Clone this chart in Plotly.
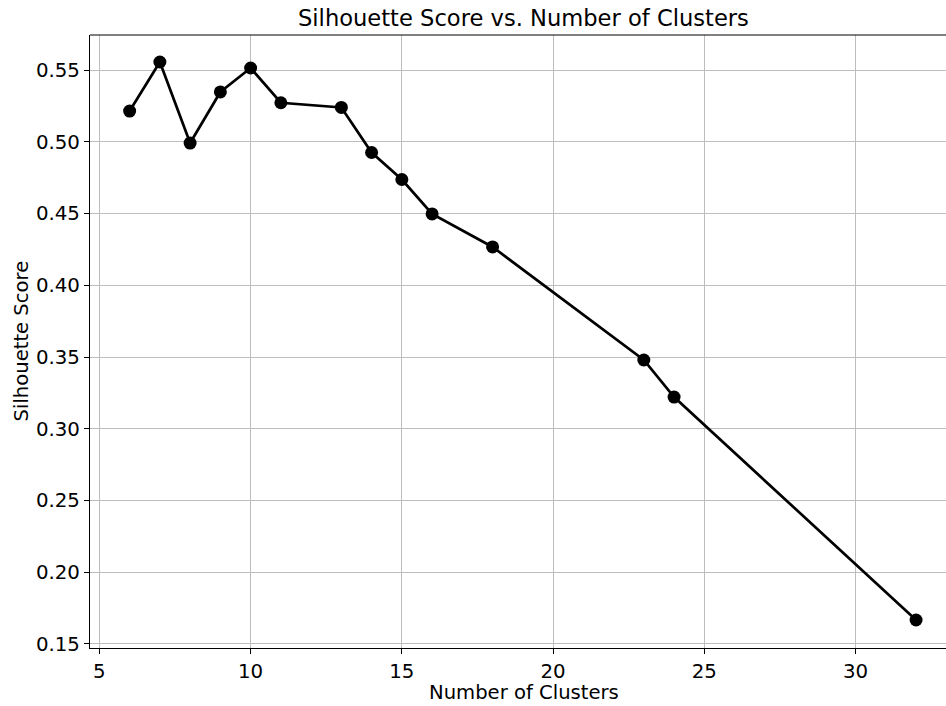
import plotly.graph_objects as go

# Silhouette score for each tested cluster count
n_clusters = [6, 7, 8, 9, 10, 11, 13, 14, 15, 16, 18, 23, 24, 32]
silhouette = [0.5214, 0.5556, 0.4991, 0.5347, 0.5514, 0.5272, 0.5239,
              0.4925, 0.4737, 0.4497, 0.4267, 0.3479, 0.3221, 0.1667]

x_ticks = [5, 10, 15, 20, 25, 30]
y_ticks = [0.15, 0.20, 0.25, 0.30, 0.35, 0.40, 0.45, 0.50, 0.55]

W, H = 946, 706
L, R, T, B = 90, 0, 35, 58
FONT = "DejaVu Sans"

fig = go.Figure()
fig.add_trace(go.Scatter(
    x=n_clusters, y=silhouette,
    mode="lines+markers",
    line=dict(color="black", width=2.7),
    marker=dict(color="black", size=13),
    showlegend=False,
))

axis_common = dict(
    showgrid=True, gridcolor="#bdbdbd", gridwidth=1.1,
    zeroline=False,
    showline=True, linecolor="black", linewidth=1.2,
    ticks="outside", ticklen=5, tickwidth=1.1, tickcolor="black",
    tickfont=dict(family=FONT, size=19.8, color="black"),
)

fig.update_xaxes(
    range=[4.69, 32.99], tickvals=x_ticks, mirror=False,
    ticklabelstandoff=0, **axis_common
)
fig.update_yaxes(
    range=[0.1472, 0.5744], tickvals=y_ticks, tickformat=".2f", **axis_common
)

plot_w = W - L - R
fig.update_layout(
    width=W, height=H,
    margin=dict(l=L, r=R, t=T, b=B),
    plot_bgcolor="white", paper_bgcolor="white",
    font=dict(family=FONT, color="black"),
    # top border of the plot area
    shapes=[dict(type="line", xref="paper", yref="paper", x0=0, x1=1, y0=1, y1=1,
                 line=dict(color="black", width=1.2))],
    annotations=[
        dict(text="Silhouette Score vs. Number of Clusters", xref="paper", yref="paper",
             x=(523 - L) / plot_w, y=1, yshift=17, xanchor="center", yanchor="middle",
             showarrow=False, font=dict(family=FONT, size=22.6, color="black")),
        dict(text="Number of Clusters", xref="paper", yref="paper",
             x=(523.5 - L) / plot_w, y=0, yshift=-(692 - (H - B)), xanchor="center",
             yanchor="middle", showarrow=False,
             font=dict(family=FONT, size=19.6, color="black")),
        dict(text="Silhouette Score", xref="paper", yref="paper",
             x=0, xshift=-(L - 21), y=0.5, xanchor="center", yanchor="middle",
             textangle=-90, showarrow=False,
             font=dict(family=FONT, size=19.6, color="black")),
    ],
)

fig.write_html("out.html")
